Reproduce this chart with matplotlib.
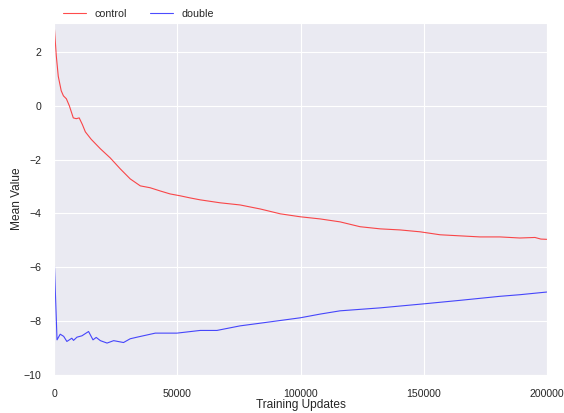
import matplotlib
matplotlib.use("Agg")
import matplotlib.pyplot as plt
import seaborn as sns

sns.set_style("darkgrid")
plt.rcParams['font.family'] = ['Liberation Sans', 'DejaVu Sans']

control_x = [0, 800, 1600, 2800, 3700, 4900, 6100, 7700, 8900, 10100, 11400, 12600,
             15000, 18700, 22700, 26800, 30800, 34900, 38900, 43000, 47000, 51100,
             55200, 59200, 67300, 75400, 83600, 91700, 99800, 107900, 116000,
             124100, 132300, 140400, 148500, 156600, 164700, 172800, 180900,
             189000, 195100, 197500, 200000]
control_y = [2.93, 1.86, 1.1, 0.56, 0.37, 0.26, 0.0, -0.45, -0.48, -0.45, -0.7, -0.97,
             -1.25, -1.6, -1.94, -2.35, -2.72, -2.98, -3.05, -3.17, -3.28, -3.35,
             -3.43, -3.5, -3.61, -3.69, -3.84, -4.02, -4.13, -4.21, -4.32,
             -4.5, -4.58, -4.62, -4.69, -4.8, -4.84, -4.88, -4.88,
             -4.92, -4.9, -4.96, -4.97]

double_x = [0, 1100, 2400, 3800, 5100, 7100, 7800, 9200, 11200, 13900, 14600, 15700,
            17000, 18700, 21400, 24100, 28100, 30800, 33600, 41000, 49800, 59200,
            66000, 75400, 83600, 99800, 108000, 116000, 132300, 150000, 164700,
            180900, 189000, 200000]
double_y = [-5.8, -8.71, -8.5, -8.58, -8.77, -8.65, -8.73, -8.61, -8.56, -8.4, -8.52,
            -8.71, -8.62, -8.74, -8.83, -8.74, -8.81, -8.67, -8.61, -8.46, -8.46, -8.36,
            -8.36, -8.19, -8.09, -7.89, -7.75, -7.63, -7.52, -7.37, -7.24,
            -7.09, -7.03, -6.93]

x_ticks = [0, 50000, 100000, 150000, 200000]
y_ticks = [-10, -8, -6, -4, -2, 0, 2]

fig = plt.figure(figsize=(5.64, 4.13), dpi=100)
ax = fig.add_axes([0.0963, 0.0932, 0.8736, 0.8504])
ax.plot(control_x, control_y, color='red', lw=0.8, alpha=0.7, label='control')
ax.plot(double_x, double_y, color='blue', lw=0.8, alpha=0.7, label='double')
ax.set_xlim(0, 200000)
ax.set_ylim(-10, 3.07)
ax.set_xticks(x_ticks)
ax.set_yticks(y_ticks)
ax.set_xlabel('Training Updates', fontsize=8.6, color='#262626', labelpad=0)
ax.set_ylabel('Mean Value', fontsize=8.6, color='#262626', labelpad=0.5)
ax.tick_params(axis='x', labelsize=7.6, pad=7, colors='#262626')
ax.tick_params(axis='y', labelsize=7.6, pad=6, colors='#262626')
ax.legend(loc='lower left', bbox_to_anchor=(0.009, 1.0), ncol=2, frameon=False,
          fontsize=7.7, borderaxespad=0.0, handlelength=2.15, columnspacing=2.15)
fig.savefig('out.png', dpi=100)
